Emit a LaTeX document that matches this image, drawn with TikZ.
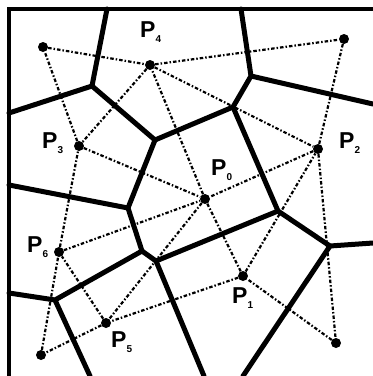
\documentclass[tikz,border=0pt]{standalone}
\usepackage{fontspec}
\usepackage{tikz}
\newfontfamily\lblfont{Liberation Sans}
\newcommand{\psub}[1]{P\raisebox{-5pt}{\fontsize{10}{10}\selectfont #1}}

\begin{document}
\begin{tikzpicture}[x=1pt,y=-1pt,
    site/.style={circle, fill=black, inner sep=0pt, minimum size=10pt},
    voro/.style={line width=5pt, line cap=round, line join=round},
    dela/.style={line width=2.2pt, dash pattern=on 3.5pt off 2pt on 1.5pt off 2pt},
    lbl/.style={font=\lblfont\bfseries\fontsize{23}{23}\selectfont, inner sep=0pt, anchor=north west}]
    \useasboundingbox (0,0) rectangle (373,376);
    \draw[line width=3.5pt] (9,376) -- (9,9) -- (373,9);
    % sites
    \node[site] (q1) at (43,47) {};
    \node[site] (p4) at (150,65) {};
    \node[site] (q2) at (344,39) {};
    \node[site] (p3) at (79,146) {};
    \node[site] (p2) at (318,149) {};
    \node[site] (p0) at (205,199) {};
    \node[site] (p6) at (59,252) {};
    \node[site] (p1) at (243,276) {};
    \node[site] (p5) at (106,323) {};
    \node[site] (q3) at (41,355) {};
    \node[site] (q4) at (336,343) {};
    % vertices
    \coordinate (t1) at (107,9);
    \coordinate (t2) at (241,9);
    \coordinate (l1) at (9,113);
    \coordinate (l2) at (9,185);
    \coordinate (l3) at (9,293);
    \coordinate (r1) at (373,104);
    \coordinate (r2) at (373,243);
    \coordinate (b1) at (243,376);
    \coordinate (b2) at (90,376);
    \coordinate (b3) at (204,376);
    \coordinate (va) at (92,86);
    \coordinate (vb) at (155,140);
    \coordinate (vd) at (128,208);
    \coordinate (ve) at (251,76);
    \coordinate (vf) at (233,107);
    \coordinate (vg) at (278,211);
    \coordinate (vi) at (330,246);
    \coordinate (vj) at (142,251);
    \coordinate (vh) at (156,261);
    \coordinate (vk) at (55,300);
    % delaunay
    \draw[dela] (q1) -- (p4) -- (q2) -- (p2) -- (q4) -- (p1) -- (p5) -- (q3) -- (p6) -- (p3) -- (q1);
    \draw[dela] (p4) -- (p3) -- (p0) -- (p4) -- (p2) -- (p0) -- (p1) -- (p2);
    \draw[dela] (p6) -- (p0) -- (p5) -- (p6);
    % voronoi
    \draw[voro] (t1) -- (va) -- (vb) -- (vf) -- (ve) -- (t2);
    \draw[voro] (l1) -- (va);
    \draw[voro] (ve) -- (r1);
    \draw[voro] (vf) -- (vg) -- (vi) -- (r2);
    \draw[voro] (vi) -- (b1);
    \draw[voro] (vb) -- (vd) -- (l2);
    \draw[voro] (vd) -- (vj) -- (vk) -- (l3);
    \draw[voro] (vk) -- (b2);
    \draw[voro] (vj) -- (vh) -- (vg);
    \draw[voro] (vh) -- (b3);
    % labels
    \node[lbl] (lp4) at (140,21) {\psub{4}};
    \node[lbl] (lp3) at (42,132) {\psub{3}};
    \node[lbl] (lp2) at (339,132) {\psub{2}};
    \node[lbl] (lp0) at (211,159) {\psub{0}};
    \node[lbl] (lp6) at (27,236) {\psub{6}};
    \node[lbl] (lp1) at (232,287) {\psub{1}};
    \node[lbl] (lp5) at (111,331) {\psub{5}};
\end{tikzpicture}
\end{document}
